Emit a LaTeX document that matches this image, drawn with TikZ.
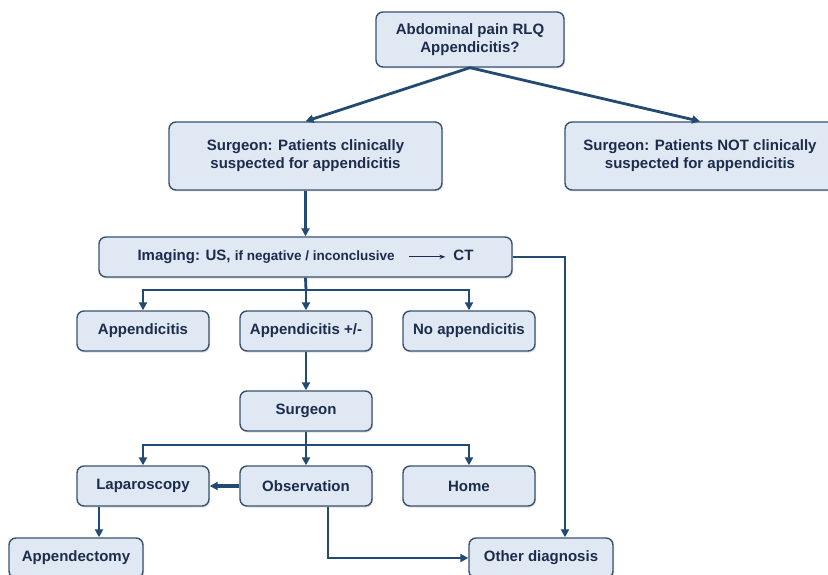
\documentclass[tikz,border=0pt]{standalone}
\usepackage{fontspec}
\setmainfont{Liberation Sans}
\usetikzlibrary{arrows.meta,shadows}
\definecolor{boxfill}{HTML}{DFE8F3}
\definecolor{boxline}{HTML}{38536F}
\definecolor{txt}{HTML}{1C2C4C}
\definecolor{wire}{HTML}{234A72}
\tikzset{>={Triangle[length=8pt,width=8pt]}}
\tikzset{
  flowbox/.style={draw=boxline,line width=1.4pt,fill=boxfill,rounded corners=7pt,
    text=txt,font=\bfseries\fontsize{15}{18}\selectfont,align=center,
    inner sep=0pt,drop shadow={opacity=0.25,shadow xshift=1pt,shadow yshift=-1.5pt}},
  wire/.style={draw=wire,line width=2.8pt}
}

\begin{document}
\begin{tikzpicture}[x=1pt,y=-1pt]
      \useasboundingbox[fill=white] (0,0) rectangle (828,575);
      % boxes
      \node[flowbox,minimum width=188pt,minimum height=55pt] (pain) at (470,39.5) {Abdominal pain RLQ\\Appendicitis?};
      \node[flowbox,minimum width=273pt,minimum height=68pt] (susp) at (305.5,156) {Surgeon: Patients clinically\\suspected for appendicitis};
      \node[flowbox,minimum width=270pt,minimum height=68pt] (nsusp) at (700,156) {Surgeon: Patients NOT clinically\\suspected for appendicitis};
      \node[flowbox,minimum width=413pt,minimum height=40pt] (img) at (305.5,257)
        {Imaging: US, {\fontsize{13.5}{15}\selectfont if negative / inconclusive}\enspace\,
         \tikz[baseline=-4pt]\draw[-{Stealth[length=6pt]},draw=txt,line width=1.2pt] (0,0) -- (36pt,0);\enspace CT};
      \node[flowbox,minimum width=132pt,minimum height=40pt] (app) at (143,331) {Appendicitis};
      \node[flowbox,minimum width=132pt,minimum height=40pt] (appq) at (306,331) {Appendicitis +/-};
      \node[flowbox,minimum width=132pt,minimum height=40pt] (noapp) at (469,331) {No appendicitis};
      \node[flowbox,minimum width=132pt,minimum height=40pt] (surg) at (306,411) {Surgeon};
      \node[flowbox,minimum width=132pt,minimum height=40pt] (lap) at (143,486) {Laparoscopy};
      \node[flowbox,minimum width=132pt,minimum height=40pt] (obs) at (306,486) {Observation};
      \node[flowbox,minimum width=132pt,minimum height=40pt] (home) at (469,486) {Home};
      \node[flowbox,minimum width=134pt,minimum height=40pt] (apx) at (76,558) {Appendectomy};
      \node[flowbox,minimum width=144pt,minimum height=40pt] (oth) at (541,558) {Other diagnosis};
      % branch points
      \coordinate (b1) at (306,290);
      \coordinate (b2) at (306,445);
      % connectors
      \draw[wire,->] (pain.south) -- (susp.north);
      \draw[wire,->] (pain.south) -- (nsusp.north);
      \draw[wire,->] (susp.south) -- (img.north);
      \draw[wire] (img.south) -- (b1);
      \draw[wire,->] (b1) -| (app.north);
      \draw[wire,->] (b1) -- (appq.north);
      \draw[wire,->] (b1) -| (noapp.north);
      \draw[wire,->] (img.east) -| ([xshift=24pt]oth.north);
      \draw[wire,->] (appq.south) -- (surg.north);
      \draw[wire] (surg.south) -- (b2);
      \draw[wire,->] (b2) -| (lap.north);
      \draw[wire,->] (b2) -- (obs.north);
      \draw[wire,->] (b2) -| (home.north);
      \draw[wire,line width=4.5pt,->] (obs.west) -- (lap.east);
      \draw[wire,->] ([xshift=-44pt]lap.south) -- ([xshift=-44pt]lap.south |- apx.north);
      \draw[wire,->] ([xshift=22pt]obs.south) |- (oth.west);
    \end{tikzpicture}
\end{document}
